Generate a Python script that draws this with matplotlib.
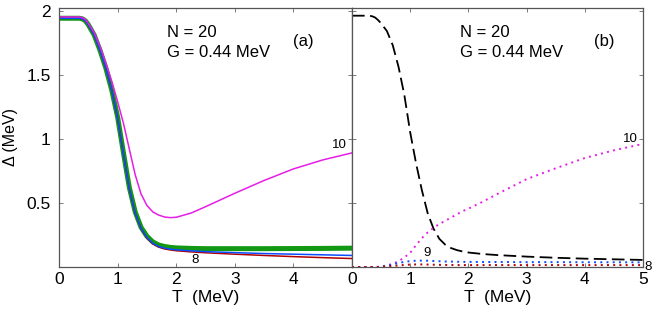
import matplotlib
matplotlib.use("Agg")
import matplotlib.pyplot as plt

# ---------------- data ----------------
T = [0.0, 0.2, 0.3, 0.35, 0.4, 0.45, 0.5, 0.6, 0.7, 0.8, 0.9, 1.0, 1.1, 1.2, 1.3,
     1.4, 1.5, 1.6, 1.7, 1.8, 1.9, 2.0, 2.25, 2.5, 3.0, 3.5, 4.0, 4.5, 5.0]

# panel (a)
gap_a_green = [1.94, 1.94, 1.94, 1.94, 1.935, 1.92, 1.89, 1.81, 1.69, 1.55, 1.38,
               1.17, 0.89, 0.62, 0.43, 0.31, 0.24, 0.196, 0.172, 0.160, 0.153,
               0.149, 0.145, 0.143, 0.143, 0.143, 0.144, 0.145, 0.147]
gap_a_blue = [1.94, 1.94, 1.94, 1.94, 1.935, 1.92, 1.89, 1.81, 1.69, 1.55, 1.38,
              1.16, 0.88, 0.61, 0.42, 0.30, 0.23, 0.185, 0.160, 0.147, 0.139,
              0.134, 0.126, 0.120, 0.112, 0.105, 0.100, 0.095, 0.090]
gap_a_red = [1.94, 1.94, 1.94, 1.94, 1.935, 1.92, 1.89, 1.81, 1.69, 1.55, 1.38,
             1.16, 0.88, 0.61, 0.42, 0.30, 0.225, 0.180, 0.155, 0.141, 0.133,
             0.127, 0.118, 0.111, 0.100, 0.090, 0.081, 0.073, 0.066]
gap_a_magenta = [1.95, 1.95, 1.95, 1.95, 1.945, 1.93, 1.90, 1.83, 1.72, 1.59, 1.45,
                 1.29, 1.12, 0.92, 0.72, 0.57, 0.48, 0.43, 0.405, 0.39, 0.385,
                 0.388, 0.42, 0.47, 0.575, 0.675, 0.765, 0.835, 0.89]

# panel (b)
gap_b_black = [1.96, 1.96, 1.96, 1.955, 1.945, 1.925, 1.90, 1.84, 1.73, 1.56, 1.34,
               1.05, 0.81, 0.60, 0.42, 0.30, 0.22, 0.175, 0.148, 0.132, 0.121,
               0.113, 0.101, 0.093, 0.081, 0.072, 0.065, 0.060, 0.055]
gap_b_magenta = [0.0, 0.0, 0.0, 0.0, 0.0, 0.001, 0.003, 0.012, 0.025, 0.045, 0.075,
                 0.11, 0.17, 0.225, 0.27, 0.305, 0.335, 0.36, 0.385, 0.41, 0.435,
                 0.455, 0.51, 0.57, 0.685, 0.77, 0.85, 0.91, 0.96]
gap_b_blue = [0.0, 0.0, 0.0, 0.0, 0.0, 0.001, 0.003, 0.010, 0.020, 0.031, 0.040,
              0.046, 0.049, 0.050, 0.049, 0.047, 0.045, 0.043, 0.042, 0.041, 0.040,
              0.040, 0.039, 0.039, 0.038, 0.038, 0.037, 0.037, 0.036]
gap_b_red = [0.0, 0.0, 0.0, 0.0, 0.0, 0.0, 0.001, 0.004, 0.008, 0.012, 0.016,
             0.019, 0.020, 0.020, 0.019, 0.018, 0.017, 0.016, 0.016, 0.015, 0.015,
             0.015, 0.015, 0.015, 0.015, 0.015, 0.015, 0.015, 0.015]

xticks_a = [0, 1, 2, 3, 4]
xticks_b = [0, 1, 2, 3, 4, 5]
yticks = [0.5, 1, 1.5, 2]
ytick_labels = ["0.5", "1", "1.5", "2"]

MAGENTA = "#e61ee6"
GREEN = "#129812"
BLUE = "#0a4cff"
RED = "#b00000"

plt.rcParams["font.family"] = ["Liberation Sans", "DejaVu Sans"]
plt.rcParams["font.size"] = 12

fig = plt.figure(figsize=(6.54, 3.15), dpi=100)
ax_a = fig.add_axes([59 / 654, 1 - 267 / 315, (352 - 59) / 654, (267 - 8) / 315])
ax_b = fig.add_axes([352 / 654, 1 - 267 / 315, (643 - 352) / 654, (267 - 8) / 315])

for ax in (ax_a, ax_b):
    ax.set_xlim(0, 5)
    ax.set_ylim(0, 2.02)
    ax.tick_params(direction="in", length=3, width=0.6, color="#666666",
                   top=True, right=True, labelsize=12.5)
    ax.tick_params(axis="x", pad=3.5)
    ax.tick_params(axis="y", pad=6)
    for s in ax.spines.values():
        s.set_color("#555555")
        s.set_linewidth(0.9)
    ax.set_yticks(yticks)
    ax.set_xlabel("T  (MeV)", fontsize=12.5, labelpad=2)

# panel (a)
ax_a.plot(T, gap_a_green, color=GREEN, lw=3.6, solid_capstyle="butt")
ax_a.plot(T, gap_a_red, color=RED, lw=1.1)
ax_a.plot(T, gap_a_blue, color=BLUE, lw=1.1)
ax_a.plot(T, gap_a_magenta, color=MAGENTA, lw=1.1)
ax_a.set_xticks(xticks_a)
ax_a.set_yticklabels(ytick_labels)
ax_a.set_ylabel("Δ (MeV)", fontsize=11.5, labelpad=6)
ax_a.text(0.37, 0.905, "N = 20", transform=ax_a.transAxes, fontsize=12, va="center")
ax_a.text(0.37, 0.83, "G = 0.44 MeV", transform=ax_a.transAxes, fontsize=12, va="center")
ax_a.text(0.80, 0.87, "(a)", transform=ax_a.transAxes, fontsize=12, va="center")
ax_a.text(4.79, 0.95, "10", fontsize=9.5, ha="center", va="center")
ax_a.text(2.33, 0.055, "8", fontsize=9.5, ha="center", va="center")
ax_a.text(5.03, 0.11, "9", fontsize=9.5, ha="left", va="center", clip_on=False)

# panel (b)
ax_b.plot(T, gap_b_black, color="black", lw=1.3, dashes=(7, 3))
ax_b.plot(T, gap_b_magenta, color=MAGENTA, lw=1.4, dashes=(1, 2.2))
ax_b.plot(T, gap_b_blue, color=BLUE, lw=1.4, dashes=(1, 2.2))
ax_b.plot(T, gap_b_red, color=RED, lw=1.4, dashes=(1, 2.2))
ax_b.set_xticks(xticks_b)
ax_b.set_yticklabels([])
ax_b.text(0.37, 0.905, "N = 20", transform=ax_b.transAxes, fontsize=12, va="center")
ax_b.text(0.37, 0.83, "G = 0.44 MeV", transform=ax_b.transAxes, fontsize=12, va="center")
ax_b.text(0.83, 0.87, "(b)", transform=ax_b.transAxes, fontsize=12, va="center")
ax_b.text(4.78, 1.0, "10", fontsize=9.5, ha="center", va="center")
ax_b.text(1.29, 0.11, "9", fontsize=9.5, ha="center", va="center")
ax_b.text(5.03, 0.0, "8", fontsize=9.5, ha="left", va="center", clip_on=False)

fig.savefig("out.png", dpi=100)
